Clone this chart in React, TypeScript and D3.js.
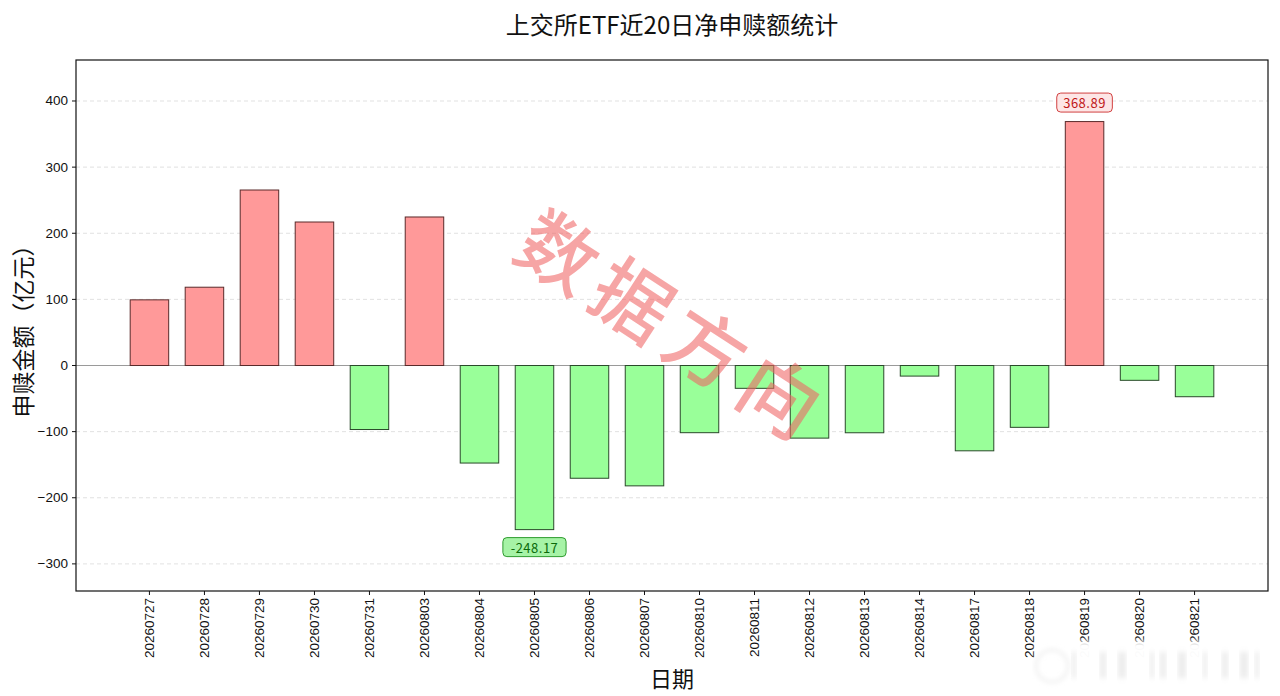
import React, { useEffect } from "react";
import * as d3 from "d3";

const dates = [
  "20260727", "20260728", "20260729", "20260730", "20260731",
  "20260803", "20260804", "20260805", "20260806", "20260807",
  "20260810", "20260811", "20260812", "20260813", "20260814",
  "20260817", "20260818", "20260819", "20260820", "20260821",
];
const values = [
  99.3, 118.4, 265.4, 217.0, -96.8,
  224.6, -147.5, -248.17, -170.5, -182.0,
  -101.6, -34.5, -109.8, -101.7, -16.0,
  -129.0, -93.5, 368.89, -22.4, -47.2,
];
const yTicks = [-300, -200, -100, 0, 100, 200, 300, 400];

const W = 1280, H = 696;
const L = 76, R = 1268, T = 60, B = 591;
const CJK = "'Noto Sans CJK SC', 'Noto Sans', sans-serif";
const LAT = "'Liberation Sans', Arial, sans-serif";

export default function App() {
  useEffect(() => {
    document.body.style.margin = "0";
  }, []);
  const n = dates.length;
  const half = 0.35;
  const span = (n - 1) + 2 * half;
  const x = d3.scaleLinear()
    .domain([-half - 0.05 * span, n - 1 + half + 0.05 * span])
    .range([L, R]);
  const y = d3.scaleLinear().domain([-341, 462]).range([B, T]);
  const bw = x(half) - x(-half);
  const maxI = values.indexOf(d3.max(values) as number);
  const minI = values.indexOf(d3.min(values) as number);

  const annBox = (i: number, above: boolean, fill: string, stroke: string, color: string) => {
    const v = values[i];
    const cx = x(i);
    const cy = above ? y(v) - 19 : y(v) + 17.5;
    const label = v.toFixed(2);
    const w = label.length * 7.6 + 10;
    return (
      <g key={"ann" + i}>
        <rect x={cx - w / 2} y={cy - 9.5} width={w} height={19} rx={4} ry={4}
          fill={fill} stroke={stroke} strokeWidth={1} />
        <text x={cx} y={cy} textAnchor="middle" dominantBaseline="central"
          fontFamily={CJK} fontSize={13} fill={color} letterSpacing={0.5}>{label}</text>
      </g>
    );
  };

  return (
    <svg width={W} height={H} style={{ display: "block", background: "#fff" }}
      fontFamily={LAT}>
      <defs>
        <filter id="blur" x="-10%" y="-30%" width="120%" height="160%">
          <feGaussianBlur stdDeviation="2.5" />
        </filter>
      </defs>
      <rect x={0} y={0} width={W} height={H} fill="#fff" />
      <text x={(L + R) / 2} y={23} textAnchor="middle" dominantBaseline="central"
        fontFamily={CJK} fontSize={24} fill="#111">上交所ETF近20日净申赎额统计</text>

      {/* grid */}
      {yTicks.map((t) => (
        <line key={"g" + t} x1={L} x2={R} y1={y(t)} y2={y(t)}
          stroke="#d9d9d9" strokeWidth={0.8} strokeDasharray="4,3" />
      ))}
      <line x1={L} x2={R} y1={y(0)} y2={y(0)} stroke="#9a9a9a" strokeWidth={1.2} />

      {/* bars */}
      {values.map((v, i) => (
        <rect key={"b" + i} x={x(i) - bw / 2} y={Math.min(y(v), y(0))}
          width={bw} height={Math.abs(y(v) - y(0))}
          fill={v >= 0 ? "#ff9999" : "#99ff99"}
          stroke={v >= 0 ? "#5a2a2a" : "#2a4a2a"} strokeWidth={1} />
      ))}

      {annBox(maxI, true, "#fde6e6", "#d24040", "#c01818")}
      {annBox(minI, false, "#a6f3a6", "#2e9a2e", "#0a6a0a")}

      {/* watermark */}
      <text x={676} y={323} textAnchor="middle" dominantBaseline="central"
        transform="rotate(33 676 323)" fontFamily={CJK} fontSize={78} fontWeight={500}
        letterSpacing={10} fill="rgb(240,100,100)" fillOpacity={0.58}>数据方向</text>

      {/* frame */}
      <rect x={L} y={T} width={R - L} height={B - T} fill="none" stroke="#111" strokeWidth={1.2} />

      {/* y axis */}
      {yTicks.map((t) => (
        <g key={"yt" + t}>
          <line x1={L - 4} x2={L} y1={y(t)} y2={y(t)} stroke="#111" strokeWidth={1} />
          <text x={L - 8} y={y(t)} textAnchor="end" dominantBaseline="central"
            fontSize={13.5} fill="#111">{t < 0 ? "\u2212" + Math.abs(t) : t}</text>
        </g>
      ))}
      <text x={22} y={(T + B) / 2} textAnchor="middle" dominantBaseline="central"
        transform={`rotate(-90 22 ${(T + B) / 2})`} fontFamily={CJK} fontSize={23}
        fill="#111">申赎金额（亿元）</text>

      {/* x axis */}
      {dates.map((d, i) => (
        <g key={"xt" + i}>
          <line x1={x(i)} x2={x(i)} y1={B} y2={B + 4} stroke="#111" strokeWidth={1} />
          <text x={x(i)} y={B + 7} textAnchor="end" dominantBaseline="central"
            transform={`rotate(-90 ${x(i)} ${B + 7})`} fontSize={13.5} fill="#111">{d}</text>
        </g>
      ))}
      <text x={(L + R) / 2} y={677} textAnchor="middle" dominantBaseline="central"
        fontFamily={CJK} fontSize={22} fill="#111">日期</text>

      {/* site watermark overlay */}
      <g>
        <rect x={1036} y={641} width={232} height={42} fill="#fff" fillOpacity={0.98} filter="url(#blur)" />
        <circle cx={1052} cy={666} r={16} fill="none" stroke="#e2e2e2" strokeWidth={1.5} filter="url(#blur)" />
        {[1072, 1100, 1118, 1150, 1160, 1178, 1203, 1222, 1240, 1255].map((px, k) => (
          <rect key={"wm" + k} x={px} y={652} width={4 + (k % 3) * 2} height={26}
            fill="#c8c8c8" fillOpacity={0.35} filter="url(#blur)" />
        ))}
      </g>
    </svg>
  );
}
